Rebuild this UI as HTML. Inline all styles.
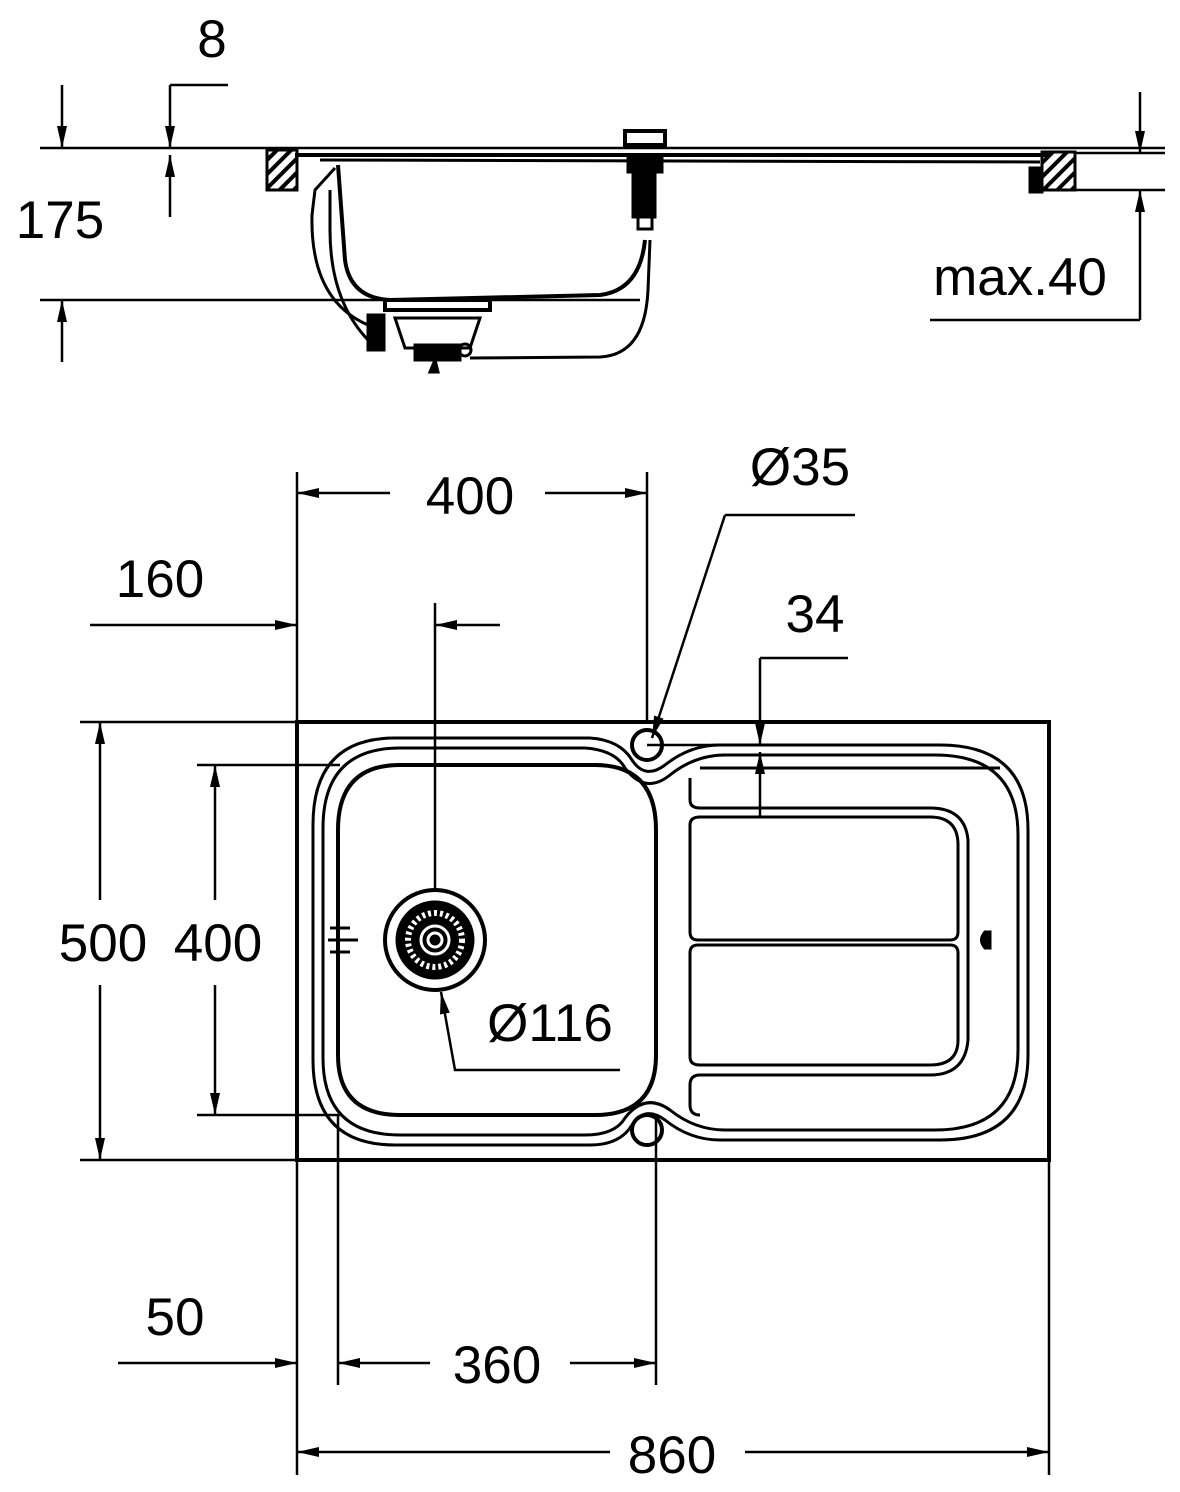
<!DOCTYPE html>
<html><head><style>body{margin:0;background:#fff}svg{display:block}text{font-family:"Liberation Sans",Arial,sans-serif;font-size:53px;fill:#000}</style></head>
<body>
<svg width="1180" height="1492" viewBox="0 0 1180 1492" xmlns="http://www.w3.org/2000/svg">
<defs>
<marker id="a" viewBox="0 0 22 10" refX="22" refY="5" markerWidth="22" markerHeight="10" markerUnits="userSpaceOnUse" orient="auto-start-reverse"><path d="M0,0 L22,5 L0,10z" fill="#000"/></marker>
<pattern id="h" width="10" height="10" patternUnits="userSpaceOnUse" patternTransform="rotate(45)"><rect width="4" height="10" fill="#000"/></pattern>
</defs>
<g fill="none" stroke="#000" stroke-width="3">
<!-- SIDE VIEW -->
<line x1="40" y1="148" x2="1165" y2="148" stroke-width="2.5"/>
<line x1="295" y1="155" x2="1048" y2="155" stroke-width="4"/>
<line x1="320" y1="160" x2="1040" y2="162" stroke-width="3"/>
<rect x="267" y="150" width="30" height="40" fill="url(#h)"/>
<rect x="1042" y="152" width="33" height="38" fill="url(#h)"/>
<path d="M1030,168 h12 v24 h-12z" fill="#000"/>
<path d="M338,165 L345,260 Q350,298 390,300 L600,295 Q640,290 645,240" stroke-width="4"/>
<path d="M335,168 L315,190 L312,215 Q310,300 368,325"/>
<path d="M330,190 L330,230 Q330,300 368,340"/>
<rect x="385" y="300" width="105" height="10" stroke-width="4"/>
<path d="M395,318 h85 l-10,30 h-65z"/>
<rect x="368" y="315" width="16" height="35" fill="#000"/>
<rect x="415" y="345" width="45" height="15" fill="#000"/>
<path d="M435,360 l-5,12 l8,0z" fill="#000"/>
<circle cx="465" cy="350" r="6"/>
<path d="M470,358 L600,357 Q645,355 648,290 L650,240"/>
<rect x="625" y="131" width="40" height="14" stroke-width="4"/>
<rect x="628" y="155" width="34" height="17" fill="#000"/>
<rect x="633" y="172" width="22" height="45" fill="#000"/>
<rect x="638" y="217" width="14" height="12"/>
<!-- dims side -->
<g stroke-width="2.5">
<line x1="170" y1="85" x2="228" y2="85"/>
<line x1="170" y1="85" x2="170" y2="148" marker-end="url(#a)"/>
<line x1="170" y1="217" x2="170" y2="155" marker-end="url(#a)"/>
<line x1="62" y1="85" x2="62" y2="148" marker-end="url(#a)"/>
<line x1="62" y1="362" x2="62" y2="300" marker-end="url(#a)"/>
<line x1="40" y1="300" x2="640" y2="300"/>
<line x1="1140" y1="92" x2="1140" y2="153" marker-end="url(#a)"/>
<line x1="1140" y1="320" x2="1140" y2="190" marker-end="url(#a)"/>
<line x1="1040" y1="190" x2="1165" y2="190"/>
<line x1="1075" y1="153" x2="1165" y2="153"/>
<line x1="930" y1="320" x2="1140" y2="320"/>
</g>
<!-- TOP VIEW -->
<rect x="297" y="722" width="752" height="438" stroke-width="4"/>
<path d="M395,738 H590 Q620,740 632,760 Q645,780 665,765 Q690,745 720,745 H940 Q1028,745 1028,830 V1055 Q1028,1140 940,1140 H720 Q690,1140 665,1120 Q645,1105 632,1125 Q620,1145 590,1145 H395 Q313,1145 313,1060 V825 Q313,738 395,738z"/>
<path d="M400,748 H585 Q615,750 625,768 Q645,795 670,775 Q695,755 725,755 H935 Q1018,755 1018,835 V1050 Q1018,1130 935,1130 H725 Q695,1130 670,1110 Q645,1092 625,1118 Q615,1135 585,1135 H400 Q323,1135 323,1058 V828 Q323,748 400,748z"/>
<path d="M400,765 H595 Q656,765 656,830 V1055 Q656,1115 595,1115 H400 Q338,1115 338,1055 V830 Q338,765 400,765z" stroke-width="4"/>
<path d="M700,768 H1000 M690,778 V800 Q690,808 700,808 H930 Q965,808 968,840 V1040 Q965,1075 930,1075 H700 Q690,1075 690,1085 V1105 Q690,1115 700,1115"/>
<path d="M700,817 H930 Q958,817 958,845 V932 Q958,940 950,940 H698 Q690,940 690,932 V825 Q690,817 700,817z"/>
<path d="M698,945 H950 Q958,945 958,953 V1040 Q958,1065 930,1065 H700 Q690,1065 690,1057 V953 Q690,945 698,945z"/>
<path d="M985,932 Q978,940 985,948 h5 v-16z" fill="#000"/>
<circle cx="647" cy="745" r="15" stroke-width="4"/>
<circle cx="647" cy="1130" r="15" stroke-width="4"/>
<circle cx="435" cy="940" r="50" stroke-width="4"/>
<circle cx="435" cy="940" r="38" fill="#000"/>
<circle cx="435" cy="940" r="27" stroke="#fff" stroke-dasharray="3 3" stroke-width="6"/>
<circle cx="435" cy="940" r="14" stroke="#fff"/>
<circle cx="435" cy="940" r="7" stroke="#fff"/>
<line x1="328" y1="940" x2="358" y2="940"/>
<line x1="330" y1="928" x2="350" y2="928"/>
<line x1="330" y1="952" x2="350" y2="952"/>
<!-- dims top -->
<g stroke-width="2.5">
<line x1="297" y1="472" x2="297" y2="1475"/>
<line x1="647" y1="472" x2="647" y2="722"/>
<line x1="1049" y1="1160" x2="1049" y2="1475"/>
<line x1="390" y1="493" x2="297" y2="493" marker-end="url(#a)"/>
<line x1="545" y1="493" x2="647" y2="493" marker-end="url(#a)"/>
<line x1="90" y1="625" x2="297" y2="625" marker-end="url(#a)"/>
<line x1="500" y1="625" x2="435" y2="625" marker-end="url(#a)"/>
<line x1="435" y1="603" x2="435" y2="890"/>
<line x1="725" y1="515" x2="855" y2="515"/>
<line x1="725" y1="515" x2="652" y2="738" marker-end="url(#a)"/>
<line x1="647" y1="745" x2="780" y2="745"/>
<line x1="760" y1="658" x2="848" y2="658"/>
<line x1="760" y1="658" x2="760" y2="745" marker-end="url(#a)"/>
<line x1="760" y1="817" x2="760" y2="752" marker-end="url(#a)"/>
<line x1="80" y1="722" x2="297" y2="722"/>
<line x1="80" y1="1160" x2="297" y2="1160"/>
<line x1="100" y1="900" x2="100" y2="722" marker-end="url(#a)"/>
<line x1="100" y1="985" x2="100" y2="1160" marker-end="url(#a)"/>
<line x1="197" y1="765" x2="340" y2="765"/>
<line x1="197" y1="1115" x2="340" y2="1115"/>
<line x1="215" y1="900" x2="215" y2="765" marker-end="url(#a)"/>
<line x1="215" y1="985" x2="215" y2="1115" marker-end="url(#a)"/>
<polyline points="620,1070 455,1070 441,992" marker-end="url(#a)"/>
<line x1="338" y1="1115" x2="338" y2="1385"/>
<line x1="656" y1="1115" x2="656" y2="1385"/>
<line x1="118" y1="1363" x2="297" y2="1363" marker-end="url(#a)"/>
<line x1="430" y1="1363" x2="338" y2="1363" marker-end="url(#a)"/>
<line x1="570" y1="1363" x2="656" y2="1363" marker-end="url(#a)"/>
<line x1="610" y1="1452" x2="297" y2="1452" marker-end="url(#a)"/>
<line x1="745" y1="1452" x2="1049" y2="1452" marker-end="url(#a)"/>
</g>
</g>
<text x="212" y="57" text-anchor="middle">8</text>
<text x="60" y="238" text-anchor="middle">175</text>
<text x="1020" y="295" text-anchor="middle">max.40</text>
<text x="470" y="514" text-anchor="middle">400</text>
<text x="800" y="485" text-anchor="middle">Ø35</text>
<text x="160" y="597" text-anchor="middle">160</text>
<text x="815" y="632" text-anchor="middle">34</text>
<text x="103" y="961" text-anchor="middle">500</text>
<text x="218" y="961" text-anchor="middle">400</text>
<text x="550" y="1041" text-anchor="middle">Ø116</text>
<text x="175" y="1335" text-anchor="middle">50</text>
<text x="497" y="1383" text-anchor="middle">360</text>
<text x="672" y="1473" text-anchor="middle">860</text>
</svg>
</body></html>
